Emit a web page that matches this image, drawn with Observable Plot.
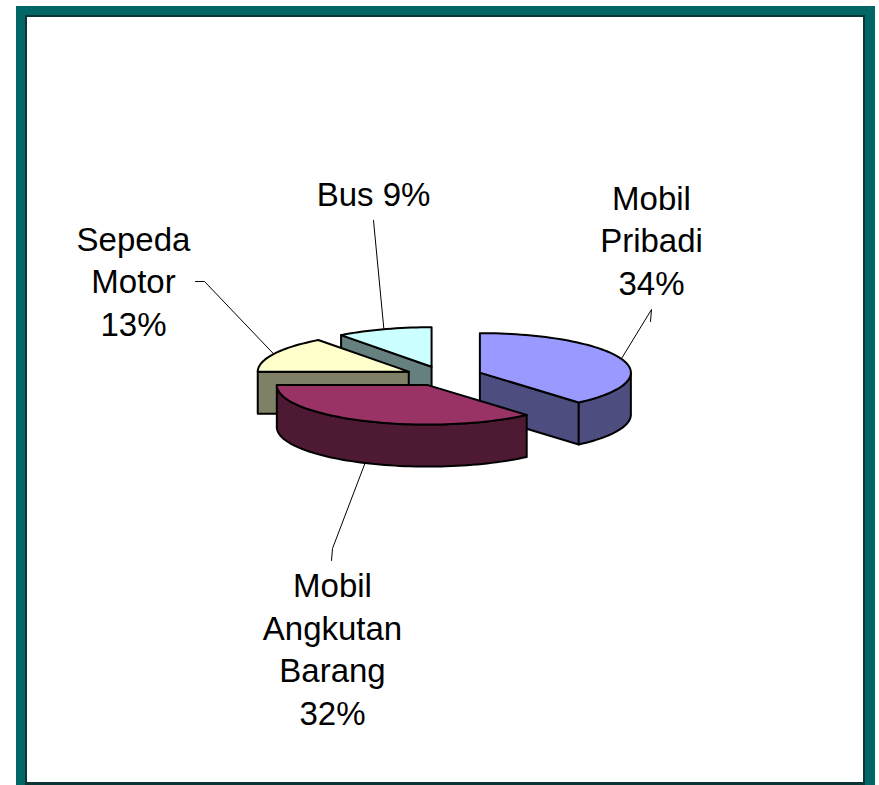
<!DOCTYPE html>
<html><head><meta charset="utf-8">
<script src="https://cdn.jsdelivr.net/npm/d3@7"></script>
<script src="https://cdn.jsdelivr.net/npm/@observablehq/plot@0.6"></script>
<style>
html,body{margin:0;padding:0;background:#fff;overflow:hidden;width:879px;height:785px}
#teal{position:absolute;left:16px;top:6px;width:859px;height:800px;background:#006666}
#shade{position:absolute;left:25px;top:15px;width:840px;height:775px;background:#0b3535}
#paper{position:absolute;left:27px;top:17px;width:836px;height:765px;background:#fff}
#chart{position:absolute;left:0;top:0}
</style></head>
<body>
<div id="teal"></div><div id="shade"></div><div id="paper"></div>
<div id="chart"></div>
<script>
// ---- data ----
const categories = ["Mobil Pribadi", "Mobil Angkutan Barang", "Sepeda Motor", "Bus"];
const shares = [34, 32, 13, 9];
const labels = ["Mobil\nPribadi\n34%", "Mobil\nAngkutan\nBarang\n32%", "Sepeda\nMotor\n13%", "Bus 9%"];

// ---- style & layout ----
const topColors = ["#9999FF", "#993366", "#FFFFCC", "#CCFFFF"];
const sideColors = ["#4D4D80", "#4D1933", "#808066", "#668080"];
const labelX = [651, 332, 133, 373];
const labelY = [238, 647, 279, 192];
const leaderEnds = [[[651, 309], [650, 321]], [[332, 548], [331, 560]], [[204, 281], [195, 281]], [[373, 220]]];
const cx = 445, cy = 375.6, rx = 151, ry = 39.5, depth = 42, explode = 0.25;
const drawOrder = [3, 2, 0, 1];
const extraShift = [[-1, 0], [-2, 0], [-3, 0], [-2, 0]];

// ---- geometry derived from the shares ----
const total = d3.sum(shares);
const rad = d => d * Math.PI / 180;
let acc = 0;
const slices = shares.map((v, i) => {
  const a0 = acc / total * 360; acc += v; const a1 = acc / total * 360;
  const mid = rad((a0 + a1) / 2);
  const c = [cx + explode * rx * Math.sin(mid) + extraShift[i][0], cy - explode * ry * Math.cos(mid) + extraShift[i][1]];
  return {i, a0, a1, mid, c};
});
const rim = (s, a, dz = 0) => [s.c[0] + rx * Math.sin(rad(a)), s.c[1] - ry * Math.cos(rad(a)) + dz];
const arc = (s, a0, a1, dz = 0) => {
  const n = Math.max(2, Math.ceil((a1 - a0) / 2));
  return d3.range(n + 1).map(k => rim(s, a0 + (a1 - a0) * k / n, dz));
};
const faces = [];
for (const idx of drawOrder) {
  const s = slices[idx], side = sideColors[idx];
  const apexLow = [s.c[0], s.c[1] + depth];
  const eps = 1e-6;
  if (Math.sin(rad(s.a0)) < -eps) faces.push({pts: [s.c, rim(s, s.a0), rim(s, s.a0, depth), apexLow], fill: side});
  if (Math.sin(rad(s.a1)) > eps) faces.push({pts: [s.c, rim(s, s.a1), rim(s, s.a1, depth), apexLow], fill: side});
  const w0 = Math.max(s.a0, 90), w1 = Math.min(s.a1, 270);
  if (w1 > w0) faces.push({pts: [...arc(s, w0, w1), ...arc(s, w0, w1, depth).reverse()], fill: side});
  faces.push({pts: [s.c, ...arc(s, s.a0, s.a1)], fill: topColors[idx]});
}
const closed = p => [...p, p[0]];

// leader lines start on the visible rim at each slice's mid-angle
const leaders = slices.map((s, i) => {
  const midDeg = s.mid * 180 / Math.PI;
  const start = rim(s, midDeg, midDeg > 90 && midDeg < 270 ? depth : 0);
  return [start, ...leaderEnds[i]];
});

const plot = Plot.plot({
  width: 879, height: 785,
  margin: 0,
  style: {background: "transparent"},
  x: {domain: [0, 879], range: [0, 879], axis: null},
  y: {domain: [0, 785], range: [0, 785], axis: null},
  marks: [
    ...leaders.map(l => Plot.line(l, {x: d => d[0], y: d => d[1], stroke: "#000", strokeWidth: 1})),
    ...faces.map(f => Plot.line(closed(f.pts), {
      x: d => d[0], y: d => d[1], fill: f.fill, stroke: "#000", strokeWidth: 2, strokeLinejoin: "round"
    })),
    Plot.text(labels, {
      x: (d, i) => labelX[i], y: (d, i) => labelY[i], text: d => d,
      fontFamily: "Liberation Sans", fontSize: 33, lineHeight: 1.29, fill: "#000",
      textAnchor: "middle", lineAnchor: "middle"
    })
  ]
});
document.getElementById("chart").appendChild(plot);
</script>
</body></html>
